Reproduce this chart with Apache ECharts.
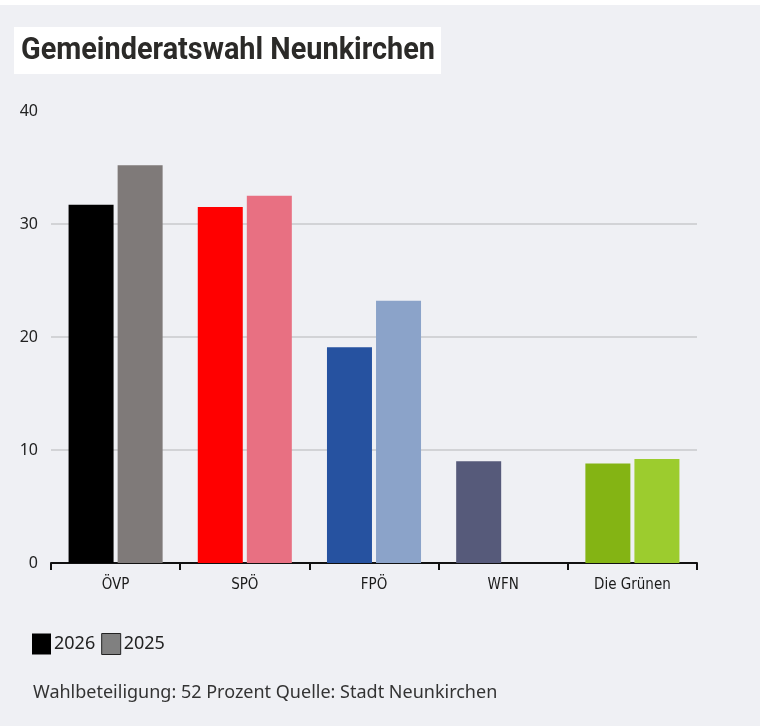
<!DOCTYPE html>
<html><head><meta charset="utf-8">
<script src="https://cdn.jsdelivr.net/npm/echarts@6/dist/echarts.min.js"></script>
<style>html,body{margin:0;padding:0;background:#fff}#c{width:760px;height:726px}</style>
</head><body><div id="c"></div>
<script>
const categories = ['ÖVP', 'SPÖ', 'FPÖ', 'WFN', 'Die Grünen'];
const values2026 = [31.7, 31.5, 19.1, 9.0, 8.8];
const values2025 = [35.2, 32.5, 23.2, null, 9.2];
const colors2026 = ['#000000', '#ff0000', '#2652a0', '#565a7a', '#84b414'];
const colors2025 = ['#7f7a79', '#e87082', '#8ba3c9', '#9a9aaa', '#9ccc2e'];
const yTicks = [0, 10, 20, 30, 40];
const seriesNames = ['2026', '2025'];
const titleText = 'Gemeinderatswahl Neunkirchen';
const footerText = 'Wahlbeteiligung: 52 Prozent Quelle: Stadt Neunkirchen';

// horizontal squeeze so the bold title spans the same width as in the reference
const ctx = document.createElement('canvas').getContext('2d');
ctx.font = 'bold 31px Roboto';
const titleScale = 414 / ctx.measureText(titleText).width;

const chart = echarts.init(document.getElementById('c'));
const mk = (vals, cols) => vals.map((v, i) => ({ value: v, itemStyle: { color: cols[i] } }));
chart.setOption({
  backgroundColor: '#eff0f4',
  animation: false,
  graphic: [
    { type: 'rect', left: 0, top: 0, shape: { width: 760, height: 5 }, style: { fill: '#ffffff' } },
    { type: 'rect', left: 14, top: 27, shape: { width: 427, height: 47 }, style: { fill: '#ffffff' } },
    { type: 'text', x: 21, y: 51, scaleX: titleScale, style: { text: titleText, fill: '#2b2a28', fontSize: 31, fontWeight: 'bold', fontFamily: 'Roboto', verticalAlign: 'middle', align: 'left' } },
    { type: 'text', left: 33, top: 684, style: { text: footerText, fill: '#333333', fontSize: 18, fontFamily: 'Noto Sans' } }
  ],
  legend: {
    left: 27, top: 628, itemWidth: 19, itemHeight: 21, itemGap: 6,
    icon: 'rect',
    textStyle: { fontSize: 18, color: '#222', fontFamily: 'Noto Sans', padding: [0, 0, 0, -2] },
    data: [
      { name: seriesNames[0], itemStyle: { color: '#000000' } },
      { name: seriesNames[1], itemStyle: { color: '#808080', borderColor: '#222', borderWidth: 1 } }
    ]
  },
  grid: { left: 51, right: 63, top: 111, bottom: 163, containLabel: false },
  xAxis: {
    type: 'category', data: categories,
    axisLine: { lineStyle: { color: '#111', width: 2 } },
    axisTick: { show: true, length: 7, lineStyle: { color: '#111', width: 2 } },
    axisLabel: { margin: 15, fontSize: 15, color: '#1a1a1a', fontFamily: 'DejaVu Sans Condensed' }
  },
  yAxis: {
    type: 'value', min: yTicks[0], max: yTicks[yTicks.length - 1], interval: 10,
    axisLine: { show: false }, axisTick: { show: false },
    axisLabel: { margin: 13, fontSize: 16, color: '#222', fontFamily: 'Noto Sans' },
    splitLine: { show: true, showMaxLine: false, lineStyle: { color: '#c9cacd', width: 1.5 } }
  },
  series: [
    { name: seriesNames[0], type: 'bar', barWidth: 45, barGap: '9%', data: mk(values2026, colors2026), itemStyle: { color: '#000' } },
    { name: seriesNames[1], type: 'bar', barWidth: 45, barGap: '9%', data: mk(values2025, colors2025), itemStyle: { color: '#808080' } }
  ]
});
</script></body></html>
